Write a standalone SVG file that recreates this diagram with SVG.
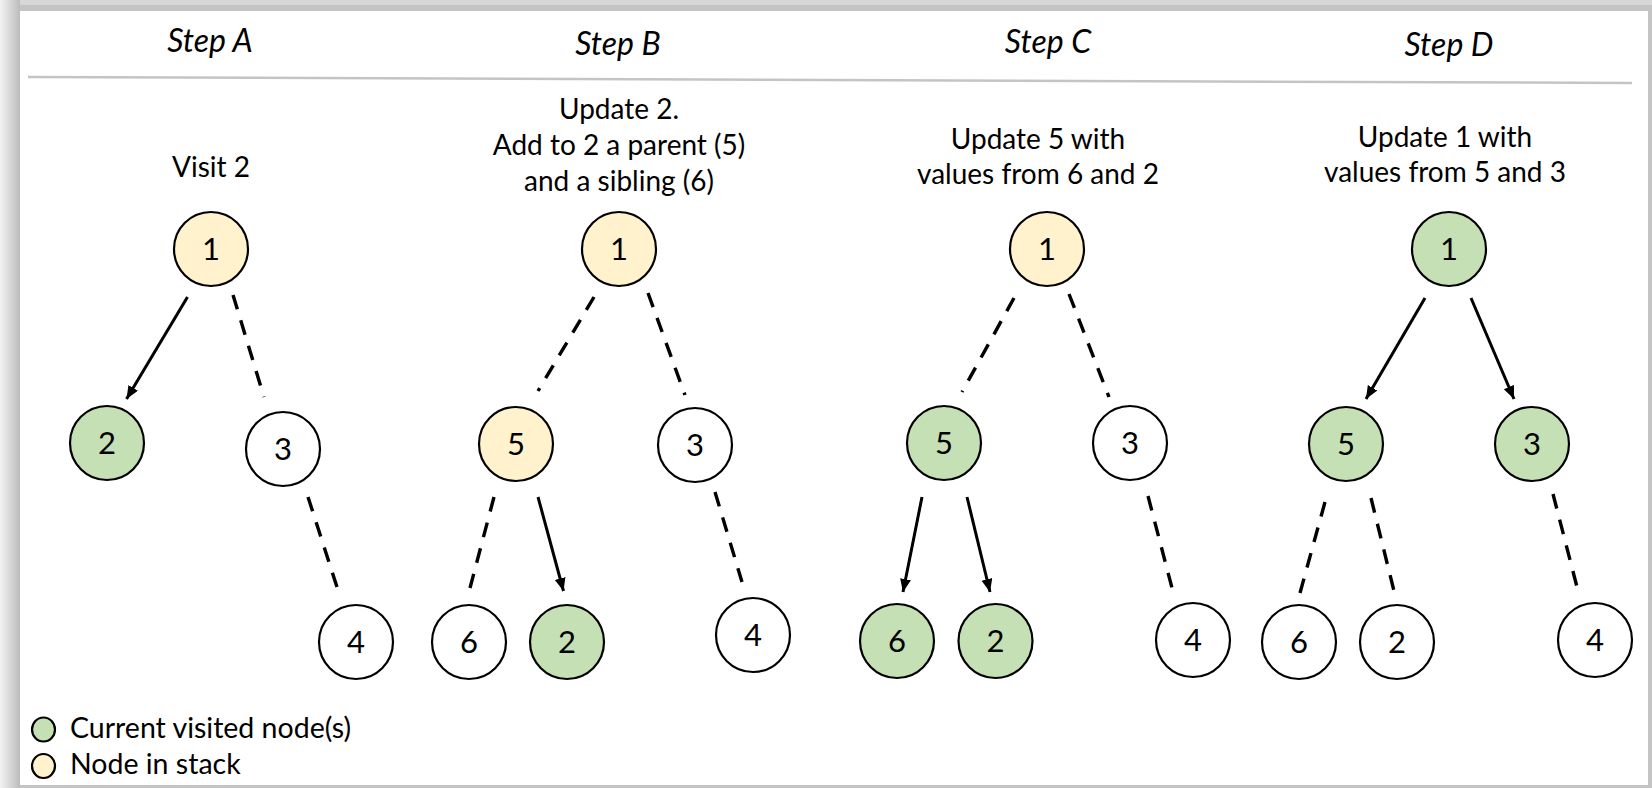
<svg xmlns="http://www.w3.org/2000/svg" width="1652" height="788" viewBox="0 0 1652 788">
<defs>
<linearGradient id="lg" x1="0" y1="0" x2="1" y2="0">
<stop offset="0" stop-color="#f2f2f2"/>
<stop offset="1" stop-color="#bcbcbc"/>
</linearGradient>
<marker id="ah" markerUnits="userSpaceOnUse" markerWidth="14" markerHeight="12" refX="13" refY="5.5" orient="auto">
<path d="M0,0 L13,5.5 L0,11 z" fill="#000"/>
</marker>
<style>
.t{font-family:Lato,"Liberation Sans",sans-serif;font-size:28px;fill:#000;text-anchor:middle}
.n2{font-family:Lato,"Liberation Sans",sans-serif;font-size:31px;fill:#000;text-anchor:middle}
.h{font-family:Lato,"Liberation Sans",sans-serif;font-size:32px;font-style:italic;fill:#000;text-anchor:middle}
.lg{font-family:Lato,"Liberation Sans",sans-serif;font-size:28.5px;fill:#000}
.n{stroke:#000;stroke-width:2.2}
.w{fill:#fff}
.g{fill:#c5e0b4}
.y{fill:#fff2cc}
.s{stroke:#000;stroke-width:3;fill:none}
.d{stroke:#000;stroke-width:3.4;fill:none;stroke-dasharray:15 11.5}
</style>
</defs>
<rect x="0" y="0" width="1652" height="788" fill="#c4c4c4"/>
<rect x="0" y="0" width="20" height="788" fill="url(#lg)"/>
<rect x="20" y="0" width="1632" height="5" fill="#d8d8d8"/>
<rect x="20" y="11" width="1628" height="774" fill="#fff"/>
<line x1="28" y1="77" x2="1632" y2="83" stroke="#c4c4c4" stroke-width="2.5"/>

<g id="headers">
<text class="h" x="210" y="52">Step A</text>
<text class="h" x="618" y="55">Step B</text>
<text class="h" x="1048" y="53">Step C</text>
<text class="h" x="1449" y="56">Step D</text>
</g>
<g id="captions">
<text class="t" x="211" y="177">Visit 2</text>
<text class="t" x="619" y="119">Update 2.</text>
<text class="t" x="619" y="155">Add to 2 a parent (5)</text>
<text class="t" x="619" y="191">and a sibling (6)</text>
<text class="t" x="1038" y="149">Update 5 with</text>
<text class="t" x="1038" y="184">values from 6 and 2</text>
<text class="t" x="1445" y="147">Update 1 with</text>
<text class="t" x="1445" y="182">values from 5 and 3</text>
</g>

<g id="connectors">
<line class="s" x1="187.5" y1="297" x2="126.5" y2="399" marker-end="url(#ah)"/>
<line class="d" x1="233" y1="295" x2="264" y2="397"/>
<line class="d" x1="308" y1="497" x2="337" y2="587"/>
<line class="d" x1="594" y1="297" x2="538" y2="391"/>
<line class="d" x1="648" y1="293" x2="685" y2="395"/>
<line class="d" x1="494" y1="497" x2="470" y2="588"/>
<line class="s" x1="538" y1="497" x2="563.5" y2="591" marker-end="url(#ah)"/>
<line class="d" x1="715" y1="492" x2="742" y2="582"/>
<line class="d" x1="1014" y1="298" x2="962" y2="392"/>
<line class="d" x1="1069" y1="294" x2="1109" y2="397"/>
<line class="s" x1="922" y1="497" x2="903" y2="592" marker-end="url(#ah)"/>
<line class="s" x1="967" y1="497" x2="990" y2="592" marker-end="url(#ah)"/>
<line class="d" x1="1148" y1="496" x2="1172" y2="588"/>
<line class="s" x1="1425" y1="298" x2="1366" y2="399" marker-end="url(#ah)"/>
<line class="s" x1="1471" y1="298" x2="1514" y2="399" marker-end="url(#ah)"/>
<line class="d" x1="1325" y1="502" x2="1300" y2="593"/>
<line class="d" x1="1371" y1="498" x2="1394" y2="591"/>
<line class="d" x1="1553" y1="494" x2="1577" y2="587"/>
</g>

<g id="A1"><circle class="n y" cx="211" cy="249" r="37"/><text class="n2" x="211" y="260">1</text></g>
<g id="A2"><circle class="n g" cx="107" cy="443" r="37"/><text class="n2" x="107" y="454">2</text></g>
<g id="A3"><circle class="n w" cx="283" cy="449" r="37"/><text class="n2" x="283" y="460">3</text></g>
<g id="A4"><circle class="n w" cx="356" cy="642" r="37"/><text class="n2" x="356" y="653">4</text></g>

<g id="B1"><circle class="n y" cx="619" cy="249" r="37"/><text class="n2" x="619" y="260">1</text></g>
<g id="B5"><circle class="n y" cx="516" cy="444" r="37"/><text class="n2" x="516" y="455">5</text></g>
<g id="B3"><circle class="n w" cx="695" cy="445" r="37"/><text class="n2" x="695" y="456">3</text></g>
<g id="B6"><circle class="n w" cx="469" cy="642" r="37"/><text class="n2" x="469" y="653">6</text></g>
<g id="B2"><circle class="n g" cx="567" cy="642" r="37"/><text class="n2" x="567" y="653">2</text></g>
<g id="B4"><circle class="n w" cx="753" cy="635" r="37"/><text class="n2" x="753" y="646">4</text></g>

<g id="C1"><circle class="n y" cx="1047" cy="249" r="37"/><text class="n2" x="1047" y="260">1</text></g>
<g id="C5"><circle class="n g" cx="944" cy="443" r="37"/><text class="n2" x="944" y="454">5</text></g>
<g id="C3"><circle class="n w" cx="1130" cy="443" r="37"/><text class="n2" x="1130" y="454">3</text></g>
<g id="C6"><circle class="n g" cx="897" cy="641" r="37"/><text class="n2" x="897" y="652">6</text></g>
<g id="C2"><circle class="n g" cx="995.5" cy="641" r="37"/><text class="n2" x="995.5" y="652">2</text></g>
<g id="C4"><circle class="n w" cx="1193" cy="640" r="37"/><text class="n2" x="1193" y="651">4</text></g>

<g id="D1"><circle class="n g" cx="1449" cy="249" r="37"/><text class="n2" x="1449" y="260">1</text></g>
<g id="D5"><circle class="n g" cx="1346" cy="444" r="37"/><text class="n2" x="1346" y="455">5</text></g>
<g id="D3"><circle class="n g" cx="1532" cy="444" r="37"/><text class="n2" x="1532" y="455">3</text></g>
<g id="D6"><circle class="n w" cx="1299" cy="642" r="37"/><text class="n2" x="1299" y="653">6</text></g>
<g id="D2"><circle class="n w" cx="1397" cy="642" r="37"/><text class="n2" x="1397" y="653">2</text></g>
<g id="D4"><circle class="n w" cx="1595" cy="640" r="37"/><text class="n2" x="1595" y="651">4</text></g>

<g id="legend">
<ellipse class="n g" cx="43.5" cy="729.5" rx="11.5" ry="12"/>
<text class="lg" x="70" y="738">Current visited node(s)</text>
<ellipse class="n y" cx="43.5" cy="766" rx="11.5" ry="12"/>
<text class="lg" x="70" y="774">Node in stack</text>
</g>
</svg>
